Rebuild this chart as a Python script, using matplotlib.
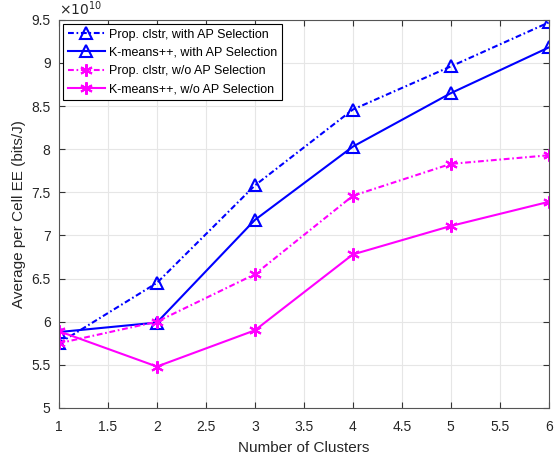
import matplotlib.pyplot as plt
from matplotlib.ticker import FuncFormatter

plt.rcParams['font.family'] = ['Liberation Sans', 'DejaVu Sans']

# number of clusters
clusters = [1, 2, 3, 4, 5, 6]

# average per cell EE, in units of 1e10 bits/J
prop_ap = [5.75, 6.45, 7.58, 8.46, 8.96, 9.47]
kmeans_ap = [5.88, 5.99, 7.18, 8.03, 8.65, 9.18]
prop_noap = [5.75, 6.00, 6.55, 7.46, 7.83, 7.93]
kmeans_noap = [5.89, 5.48, 5.90, 6.78, 7.11, 7.39]

labels = ['Prop. clstr, with AP Selection', 'K-means++, with AP Selection',
          'Prop. clstr, w/o AP Selection', 'K-means++, w/o AP Selection']

fig = plt.figure(figsize=(5.56, 4.62), dpi=100)
ax = fig.add_axes([0.106, 0.117, 0.881, 0.840])

ast = (6, 2, 0)
dashdot = (2.8, 1.3, 0.8, 1.3)
ax.plot(clusters, prop_ap, color='#0000ff', linestyle='-.', dashes=dashdot, lw=1.5,
        marker='^', ms=8, mfc='none', mew=1.5, label=labels[0])
ax.plot(clusters, kmeans_ap, color='#0000ff', linestyle='-', lw=1.5, marker='^',
        ms=8, mfc='none', mew=1.5, label=labels[1])
ax.plot(clusters, prop_noap, color='#ff00ff', linestyle='-.', dashes=dashdot, lw=1.5,
        marker=ast, ms=9, mew=1.5, label=labels[2])
ax.plot(clusters, kmeans_noap, color='#ff00ff', linestyle='-', lw=1.5, marker=ast,
        ms=9, mew=1.5, label=labels[3])

ax.set_xlim(1, 6)
ax.set_ylim(5, 9.5)
ax.set_xticks([1, 1.5, 2, 2.5, 3, 3.5, 4, 4.5, 5, 5.5, 6])
ax.set_yticks([5, 5.5, 6, 6.5, 7, 7.5, 8, 8.5, 9, 9.5])
fmt = FuncFormatter(lambda v, p: '%g' % v)
ax.xaxis.set_major_formatter(fmt)
ax.yaxis.set_major_formatter(fmt)

ax.grid(True, color='#e6e6e6', lw=0.8)
ax.set_axisbelow(True)
for s in ax.spines.values():
    s.set_color('#555555')
    s.set_linewidth(0.8)
ax.tick_params(direction='in', top=True, right=True, colors='#333333',
               labelsize=10, length=4, width=0.8, pad=6)
ax.tick_params(axis='x', pad=9)
ax.tick_params(labelcolor='#262626')

ax.set_xlabel('Number of Clusters', fontsize=11, color='#262626', labelpad=5)
ax.set_ylabel('Average per Cell EE (bits/J)', fontsize=11, color='#262626', labelpad=4)
ax.text(0.0, 1.005, r'$\times10^{10}$', transform=ax.transAxes, fontsize=10,
        color='#262626', va='bottom', ha='left')

leg = ax.legend(loc='upper left', fontsize=9, frameon=True, fancybox=False,
                edgecolor='black', framealpha=1, borderaxespad=0.3,
                handlelength=3, labelspacing=0.5, borderpad=0.4, handletextpad=0.3)
leg.get_frame().set_linewidth(0.8)

plt.savefig('out.png', dpi=100)
